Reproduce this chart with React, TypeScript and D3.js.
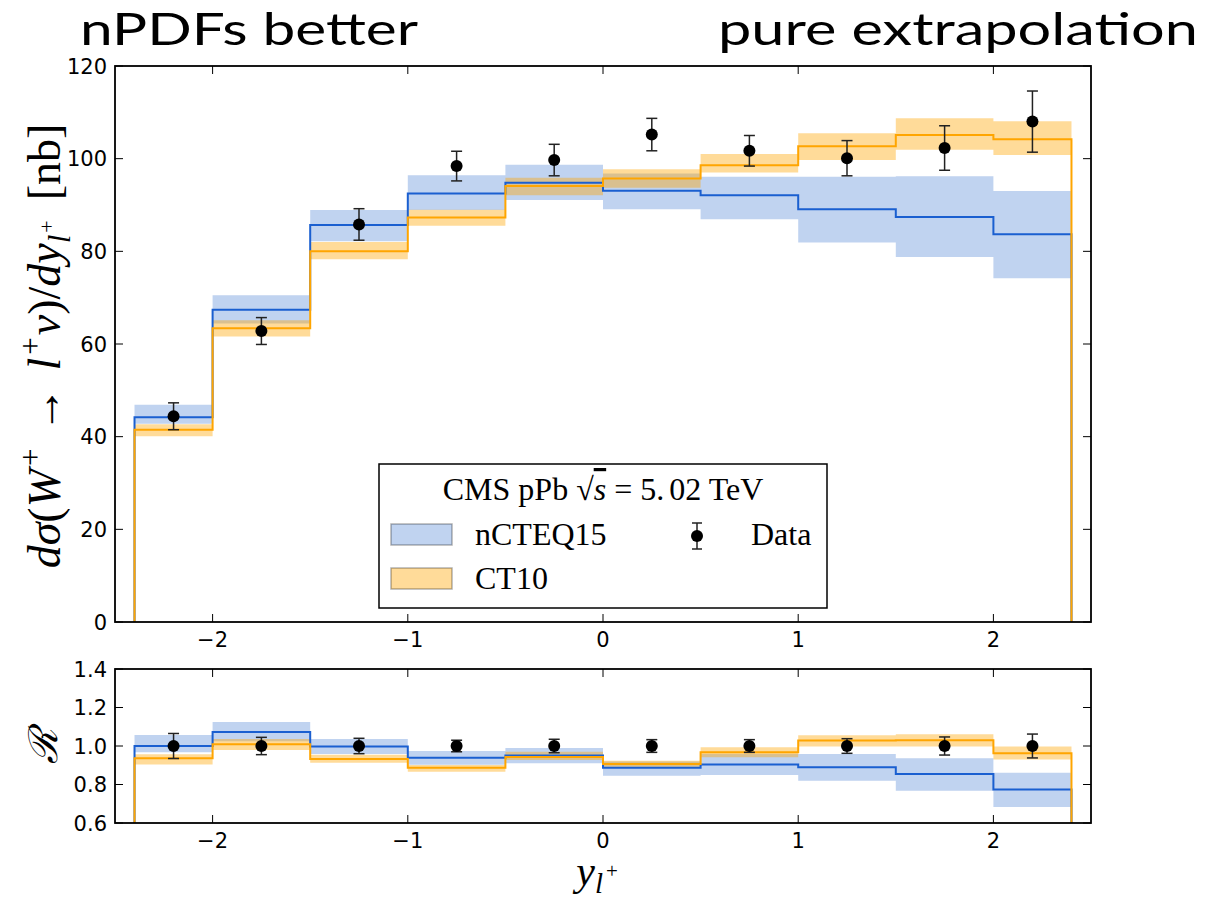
import React from 'react';
import * as d3 from 'd3';

// bin edges and data positions in y_l+
const edges = [-2.4, -2, -1.5, -1, -0.5, 0, 0.5, 1, 1.5, 2, 2.4];
const dataX = [-2.2, -1.75, -1.25, -0.75, -0.25, 0.25, 0.75, 1.25, 1.75, 2.2];

// cross section panel [nb]
const dataY = [44.4, 62.8, 85.8, 98.4, 99.7, 105.2, 101.7, 100.1, 102.3, 108.0];
const dataErr = [2.9, 2.9, 3.4, 3.2, 3.4, 3.5, 3.3, 3.8, 4.8, 6.6];
const ncteqC = [44.2, 67.4, 85.7, 92.5, 94.8, 93.1, 92.1, 89.1, 87.4, 83.7];
const ncteqLo = [42.8, 64.4, 82.2, 88.9, 91.1, 89.1, 86.9, 81.9, 78.8, 74.2];
const ncteqHi = [46.9, 70.5, 88.9, 96.4, 98.7, 96.8, 96.1, 96.1, 96.2, 93.0];
const ct10C = [41.5, 63.4, 80.0, 87.3, 94.1, 95.7, 98.6, 102.7, 105.1, 104.2];
const ct10Lo = [40.1, 61.6, 78.3, 85.5, 92.1, 93.7, 97.0, 99.7, 101.9, 100.8];
const ct10Hi = [42.7, 65.1, 82.0, 89.0, 95.9, 97.7, 101.0, 105.5, 108.7, 108.1];

// ratio panel
const ratioData = [1, 1, 1, 1, 1, 1, 1, 1, 1, 1];
const ratioErr = [0.065, 0.045, 0.04, 0.03, 0.035, 0.033, 0.033, 0.038, 0.047, 0.062];
const ncteqRC = [1.0, 1.073, 0.997, 0.939, 0.951, 0.887, 0.904, 0.89, 0.854, 0.774];
const ncteqRLo = [0.968, 1.025, 0.958, 0.903, 0.911, 0.845, 0.849, 0.819, 0.767, 0.683];
const ncteqRHi = [1.057, 1.125, 1.036, 0.974, 0.99, 0.92, 0.958, 0.958, 0.937, 0.861];
const ct10RC = [0.936, 1.009, 0.932, 0.887, 0.943, 0.906, 0.967, 1.028, 1.03, 0.962];
const ct10RLo = [0.904, 0.979, 0.913, 0.866, 0.927, 0.892, 0.941, 0.997, 0.997, 0.93];
const ct10RHi = [0.957, 1.036, 0.955, 0.901, 0.97, 0.923, 0.993, 1.056, 1.061, 0.998];

const xTicks = [-2, -1, 0, 1, 2];
const yTicks = [0, 20, 40, 60, 80, 100, 120];
const rTicks = [0.6, 0.8, 1.0, 1.2, 1.4];

const BLUE = '#1a5fd0';
const BLUE_BAND = '#2d6ccd';
const ORANGE = '#ffa500';
const SANS = 'DejaVu Sans, sans-serif';
const SERIF = 'Liberation Serif, serif';

const x = d3.scaleLinear().domain([-2.5, 2.5]).range([115, 1091]);
const yMain = d3.scaleLinear().domain([0, 120]).range([622, 66]);
const yRatio = d3.scaleLinear().domain([0.6, 1.4]).range([823, 669]);

const fmtMinus = (v: number) => (v < 0 ? '\u2212' + Math.abs(v) : String(v));

function bandPath(lo: number[], hi: number[], y: any) {
  const n = lo.length;
  const pts = edges.map((e, i) => ({ e, lo: lo[Math.min(i, n - 1)], hi: hi[Math.min(i, n - 1)] }));
  return d3.area<any>()
    .x((d) => x(d.e))
    .y0((d) => y(d.lo))
    .y1((d) => y(d.hi))
    .curve(d3.curveStepAfter)(pts);
}

function stepPath(c: number[], y: any, floor: number) {
  const pts: [number, number][] = [[edges[0], floor]];
  c.forEach((v, i) => pts.push([edges[i], v]));
  pts.push([edges[edges.length - 1], floor]);
  return d3.line<[number, number]>()
    .x((d) => x(d[0]))
    .y((d) => y(d[1]))
    .curve(d3.curveStepAfter)(pts);
}

function Panel(props: any) {
  const { y, id, ticks, fmtY, vals, errs, nC, nLo, nHi, cC, cLo, cHi, floor } = props;
  const [y0, y1] = y.range();
  return (
    <g>
      <clipPath id={id}>
        <rect x={x(-2.5)} y={y1} width={x(2.5) - x(-2.5)} height={y0 - y1} />
      </clipPath>
      <g clipPath={`url(#${id})`}>
        <path d={bandPath(nLo, nHi, y) as string} fill={BLUE_BAND} fillOpacity={0.3} />
        <path d={bandPath(cLo, cHi, y) as string} fill={ORANGE} fillOpacity={0.4} />
        <path d={stepPath(nC, y, floor) as string} fill="none" stroke={BLUE} strokeWidth={2} />
        <path d={stepPath(cC, y, floor) as string} fill="none" stroke={ORANGE} strokeWidth={2} />
      </g>
      {dataX.map((dx, i) => {
        const cx = x(dx);
        return (
          <g key={i} stroke="#222" strokeWidth={1.5}>
            <line x1={cx} x2={cx} y1={y(vals[i] - errs[i])} y2={y(vals[i] + errs[i])} />
            <line x1={cx - 5.5} x2={cx + 5.5} y1={y(vals[i] - errs[i])} y2={y(vals[i] - errs[i])} />
            <line x1={cx - 5.5} x2={cx + 5.5} y1={y(vals[i] + errs[i])} y2={y(vals[i] + errs[i])} />
            <circle cx={cx} cy={y(vals[i])} r={6} fill="#000" stroke="none" />
          </g>
        );
      })}
      {/* frame */}
      <rect x={x(-2.5)} y={y1} width={x(2.5) - x(-2.5)} height={y0 - y1} fill="none" stroke="#000" strokeWidth={1.8} />
      {/* ticks, inward on all sides */}
      {xTicks.map((t) => (
        <g key={'x' + t} stroke="#000" strokeWidth={1}>
          <line x1={x(t)} x2={x(t)} y1={y0} y2={y0 - 8} />
          <line x1={x(t)} x2={x(t)} y1={y1} y2={y1 + 8} />
        </g>
      ))}
      {xTicks.map((t) => (
        <text key={'xl' + t} x={x(t)} y={y0 + 25} textAnchor="middle" fontFamily={SANS} fontSize={21}>
          {fmtMinus(t)}
        </text>
      ))}
      {ticks.map((t: number) => (
        <g key={'y' + t} stroke="#000" strokeWidth={1}>
          <line x1={x(-2.5)} x2={x(-2.5) + 8} y1={y(t)} y2={y(t)} />
          <line x1={x(2.5)} x2={x(2.5) - 8} y1={y(t)} y2={y(t)} />
        </g>
      ))}
      {ticks.map((t: number) => (
        <text key={'yl' + t} x={x(-2.5) - 8} y={y(t)} dy="0.36em" textAnchor="end" fontFamily={SANS} fontSize={21}>
          {fmtY(t)}
        </text>
      ))}
    </g>
  );
}

export default function App() {
  return (
    <svg width={1209} height={901} style={{ position: 'absolute', left: 0, top: 0, background: '#fff' }}>
      <rect width={1209} height={901} fill="#fff" />

      <Panel
        id="clipMain" y={yMain} ticks={yTicks} fmtY={(t: number) => String(t)}
        vals={dataY} errs={dataErr}
        nC={ncteqC} nLo={ncteqLo} nHi={ncteqHi}
        cC={ct10C} cLo={ct10Lo} cHi={ct10Hi} floor={0}
      />
      <Panel
        id="clipRatio" y={yRatio} ticks={rTicks} fmtY={(t: number) => t.toFixed(1)}
        vals={ratioData} errs={ratioErr}
        nC={ncteqRC} nLo={ncteqRLo} nHi={ncteqRHi}
        cC={ct10RC} cLo={ct10RLo} cHi={ct10RHi} floor={0}
      />

      {/* legend */}
      <g>
        <rect x={379} y={464} width={448} height={144} fill="#fff" stroke="#000" strokeWidth={1.5} />
        <text x={603} y={500} textAnchor="middle" fontFamily={SERIF} fontSize={32}>
          CMS pPb {'\u221A'}<tspan fontStyle="italic" textDecoration="overline">s</tspan> = 5.<tspan dx={5}>02</tspan> TeV
        </text>
        <rect x={391} y={524} width={61} height={21} fill={BLUE_BAND} fillOpacity={0.3} stroke="#000" strokeOpacity={0.3} strokeWidth={1.5} />
        <text x={475} y={545} fontFamily={SERIF} fontSize={32}>nCTEQ15</text>
        <rect x={391} y={568} width={61} height={21} fill={ORANGE} fillOpacity={0.4} stroke="#000" strokeOpacity={0.3} strokeWidth={1.5} />
        <text x={475} y={589} fontFamily={SERIF} fontSize={32}>CT10</text>
        <g stroke="#222" strokeWidth={1.5}>
          <line x1={697} x2={697} y1={523} y2={549} />
          <line x1={692} x2={702} y1={523} y2={523} />
          <line x1={692} x2={702} y1={549} y2={549} />
          <circle cx={697} cy={536} r={6} fill="#000" stroke="none" />
        </g>
        <text x={751} y={545} fontFamily={SERIF} fontSize={32}>Data</text>
      </g>

      {/* axis labels */}
      <text transform="translate(60,346) rotate(-90)" textAnchor="middle" fontFamily={SERIF} fontSize={46}>
        <tspan fontStyle="italic">d</tspan><tspan fontStyle="italic">σ</tspan>(<tspan fontStyle="italic">W</tspan>
        <tspan fontSize={31} dy={-19} dx={3}>+</tspan>
        <tspan dy={19} dx={16}>→</tspan>
        <tspan dx={16} fontStyle="italic">l</tspan>
        <tspan fontSize={31} dy={-19} dx={3}>+</tspan>
        <tspan dy={19} dx={2} fontStyle="italic">ν</tspan>)/<tspan fontStyle="italic">dy</tspan>
        <tspan fontSize={31} dy={10} fontStyle="italic">l</tspan>
        <tspan fontSize={22} dy={-16} dx={2}>+</tspan>
        <tspan dy={6} dx={20}>[nb]</tspan>
      </text>
      <text transform="translate(57,746) rotate(-90)" textAnchor="middle" fontFamily="DejaVu Serif, serif" fontSize={40} fontStyle="italic">
        ℛ
      </text>
      <text x={597} y={885} textAnchor="middle" fontFamily={SERIF} fontSize={42}>
        <tspan fontStyle="italic">y</tspan>
        <tspan fontSize={29} dy={8} fontStyle="italic">l</tspan>
        <tspan fontSize={21} dy={-15} dx={3}>+</tspan>
      </text>

      {/* slide titles */}
      <text x={80} y={45} fontFamily="Lato, sans-serif" fontSize={44} textLength={338} lengthAdjust="spacingAndGlyphs">
        nPDFs better
      </text>
      <text x={718} y={45} fontFamily="Lato, sans-serif" fontSize={44} textLength={480} lengthAdjust="spacingAndGlyphs">
        pure extrapolation
      </text>
    </svg>
  );
}
